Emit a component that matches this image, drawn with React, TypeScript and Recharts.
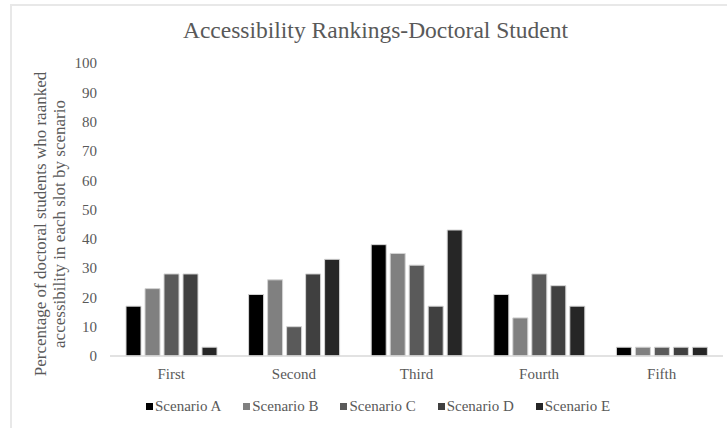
import { BarChart, Bar, XAxis, YAxis } from 'recharts'

const slots = ['First', 'Second', 'Third', 'Fourth', 'Fifth']
const scenarioA = [17, 21, 38, 21, 3]
const scenarioB = [23, 26, 35, 13, 3]
const scenarioC = [28, 10, 31, 28, 3]
const scenarioD = [28, 28, 17, 24, 3]
const scenarioE = [3, 33, 43, 17, 3]
const yTicks = [0, 10, 20, 30, 40, 50, 60, 70, 80, 90, 100]

const FONT = '"Liberation Serif", "Times New Roman", serif'
const TEXT = '#595959'

const data = slots.map((slot, i) => ({
    slot,
    a: scenarioA[i],
    b: scenarioB[i],
    c: scenarioC[i],
    d: scenarioD[i],
    e: scenarioE[i]
}))

const series = [
    { key: 'a', name: 'Scenario A', color: '#000000' },
    { key: 'b', name: 'Scenario B', color: '#808080' },
    { key: 'c', name: 'Scenario C', color: '#5a5a5a' },
    { key: 'd', name: 'Scenario D', color: '#404040' },
    { key: 'e', name: 'Scenario E', color: '#262626' }
]

function AxisTitle() {
    return (
        <text transform="translate(51, 224) rotate(-90)" textAnchor="middle" fill={TEXT} fontFamily={FONT} fontSize={17}>
            <tspan x={0} dy={-5}>Percentage of doctoral students who raanked</tspan>
            <tspan x={0} dy={19}>accessibility in each slot by scenario</tspan>
        </text>
    )
}

export default function App() {
    return (
        <div style={{ position: 'fixed', left: 0, top: 0, width: 727, height: 428, overflow: 'hidden', background: '#fff' }}>
            {/* frame around the chart area */}
            <div style={{ position: 'absolute', left: 10, top: 4, width: 740, height: 450, border: '2px solid #e8e8e8' }} />
            <div style={{ position: 'absolute', left: 0, top: 17, width: 727, textAlign: 'center', marginLeft: 12, fontFamily: FONT, fontSize: 23.5, color: TEXT }}>
                Accessibility Rankings-Doctoral Student
            </div>
            <div style={{ position: 'absolute', left: 0, top: 0 }}>
                <BarChart
                    width={727}
                    height={428}
                    data={data}
                    barSize={15}
                    barGap={4}
                    margin={{ top: 63, right: 4, bottom: 42, left: 0 }}
                >
                    <XAxis
                        dataKey="slot"
                        axisLine={{ stroke: '#d9d9d9', strokeWidth: 1.5 }}
                        tickLine={false}
                        tickSize={0}
                        tickMargin={12}
                        tick={{ fill: TEXT, fontSize: 15, fontFamily: FONT }}
                    />
                    <YAxis
                        width={110}
                        domain={[0, 100]}
                        ticks={yTicks}
                        axisLine={false}
                        tickLine={false}
                        tickSize={0}
                        tickMargin={13}
                        tick={{ fill: TEXT, fontSize: 15, fontFamily: FONT }}
                        label={{ content: () => <AxisTitle /> }}
                    />
                    {series.map((s) => (
                        <Bar
                            key={s.key}
                            dataKey={s.key}
                            name={s.name}
                            fill={s.color}
                            stroke="#d4d4d4"
                            strokeWidth={1}
                            isAnimationActive={false}
                        />
                    ))}
                </BarChart>
            </div>
            {/* series legend under the category axis */}
            <div style={{ position: 'absolute', left: 146, top: 398, display: 'flex', gap: 22, fontFamily: FONT, fontSize: 15, color: TEXT }}>
                {series.map((s) => (
                    <div key={s.key} style={{ display: 'flex', alignItems: 'center', gap: 2 }}>
                        <span style={{ width: 7, height: 7, background: s.color, display: 'inline-block' }} />
                        <span>{s.name}</span>
                    </div>
                ))}
            </div>
        </div>
    )
}
